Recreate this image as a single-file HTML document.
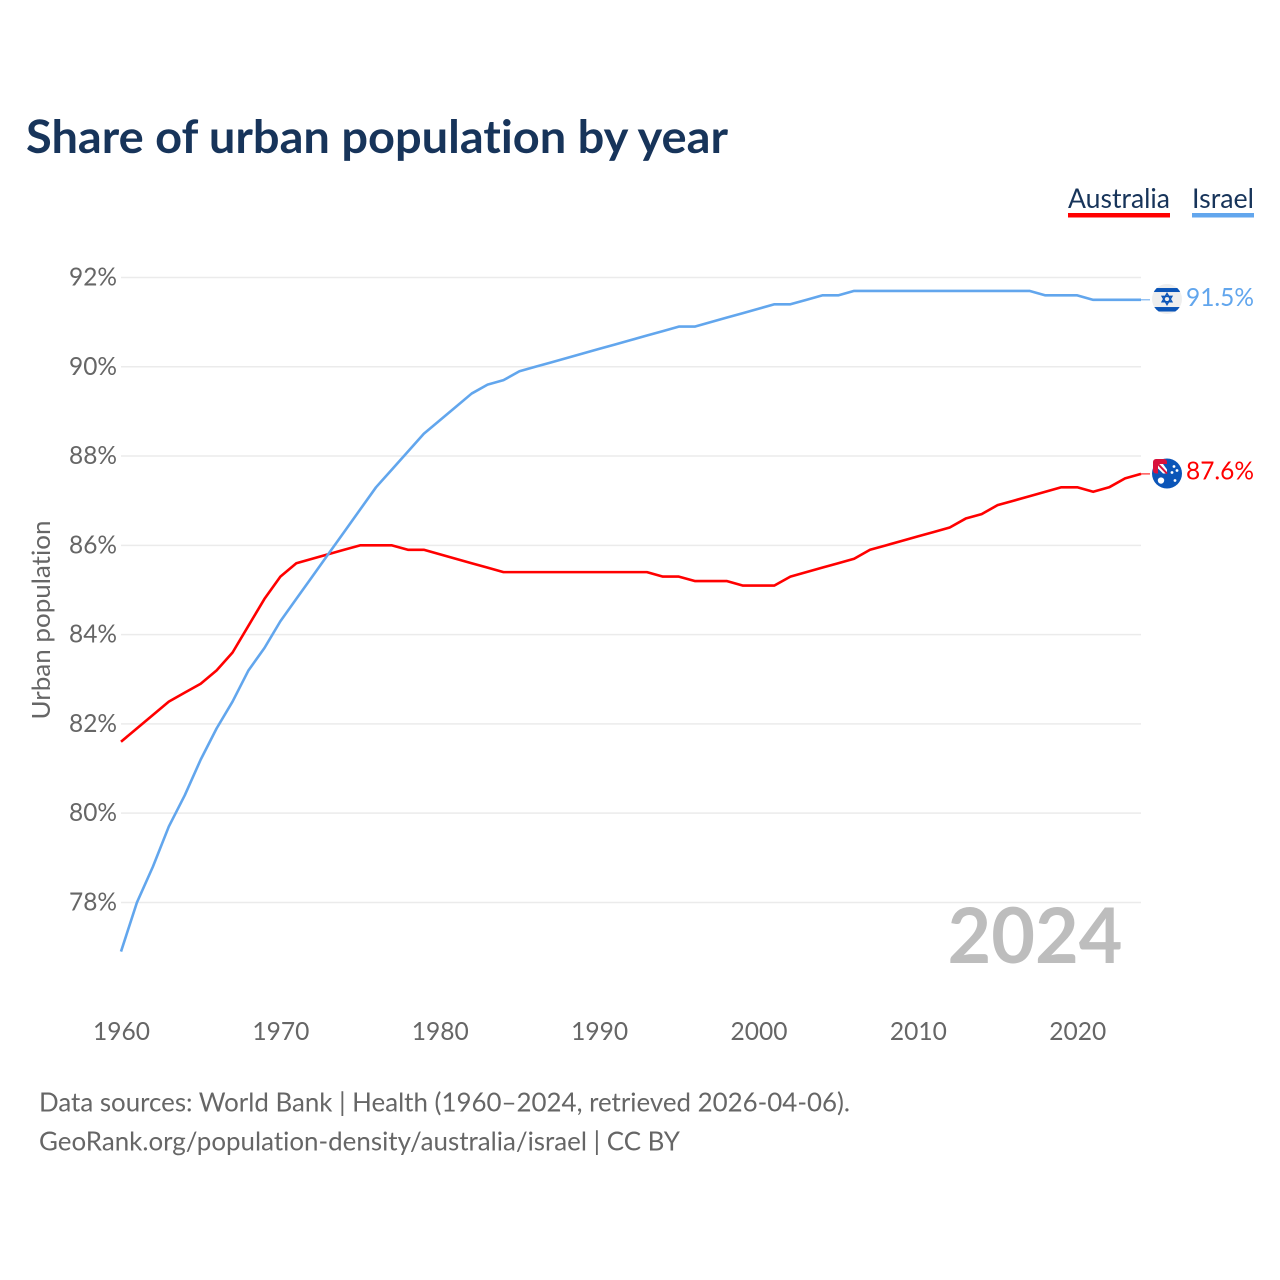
<!DOCTYPE html>
<html lang="en">
<head>
<meta charset="utf-8">
<title>Share of urban population by year</title>
<style>
html,body{margin:0;padding:0;background:#fff;width:1280px;height:1280px;overflow:hidden}
svg{display:block}
text{font-family:"Lato","Carlito","Liberation Sans",sans-serif;font-variant-ligatures:none}
</style>
</head>
<body>
<svg id="chart" xmlns="http://www.w3.org/2000/svg" width="1280" height="1280" viewBox="0 0 1280 1280">
  <defs>
    <clipPath id="il-clip"><circle cx="0" cy="0" r="15"/></clipPath>
    <clipPath id="au-clip"><circle cx="0" cy="0" r="15"/></clipPath>
  </defs>
  <text x="26" y="153" font-size="46" font-weight="700" fill="#17345a" textLength="702" lengthAdjust="spacingAndGlyphs">Share of urban population by year</text>
  <g>
    <g>
      <text x="1068" y="208" font-size="27" fill="#17345a" textLength="102" lengthAdjust="spacingAndGlyphs">Australia</text>
      <rect x="1068" y="213" width="102" height="4.5" fill="#ff0000"/>
    </g>
    <g>
      <text x="1192" y="208" font-size="27" fill="#17345a" textLength="62" lengthAdjust="spacingAndGlyphs">Israel</text>
      <rect x="1192" y="213" width="62" height="4.5" fill="#62a6ed"/>
    </g>
  </g>
  <text transform="translate(50,620) rotate(-90)" text-anchor="middle" font-size="25" fill="#666666" textLength="199" lengthAdjust="spacingAndGlyphs">Urban population</text>
  <g id="grid"></g>
  <g id="y-labels"></g>
  <g id="x-labels"></g>
  <text id="year-watermark" x="1122.5" y="963" text-anchor="end" font-size="77" font-weight="700" fill="#bdbdbd" textLength="175" lengthAdjust="spacingAndGlyphs"></text>
  <g id="series"></g>
  <g id="flag-israel">
    <g clip-path="url(#il-clip)">
      <rect x="-15" y="-15" width="30" height="30" fill="#eeeeee"/>
      <rect x="-15" y="-11" width="30" height="4" fill="#0b55b8"/>
      <rect x="-15" y="8" width="30" height="4.5" fill="#0b55b8"/>
      <path d="M0-5.5 4.8 2.7H-4.8ZM0 5.5-4.8-2.7H4.8Z" fill="none" stroke="#0b55b8" stroke-width="1.5"/>
    </g>
  </g>
  <g id="flag-australia">
    <g clip-path="url(#au-clip)">
      <rect x="-15" y="-15" width="30" height="30" fill="#0b55b8"/>
    </g>
    <rect x="-14" y="-14.5" width="14" height="14.5" rx="3" fill="#d8123c"/>
    <rect x="-9" y="-9.5" width="9" height="9.5" fill="#ffffff"/>
    <path d="M-9-5-4 0H-9Z" fill="#0b55b8"/>
    <path d="M-9-9.5 0 0" stroke="#d8123c" stroke-width="2"/>
    <path d="M-4-9.5H0V-4Z" fill="#0b55b8"/>
    <circle cx="-6" cy="7" r="3.2" fill="#ffffff"/>
    <circle cx="7" cy="-7" r="1.4" fill="#ffffff"/>
    <circle cx="10" cy="-3" r="1.4" fill="#ffffff"/>
    <circle cx="5" cy="-1" r="1.4" fill="#ffffff"/>
    <circle cx="8" cy="7" r="1.4" fill="#ffffff"/>
  </g>
  <text id="value-israel" x="1186" font-size="25.5" fill="#62a6ed" textLength="68" lengthAdjust="spacingAndGlyphs"></text>
  <text id="value-australia" x="1186" font-size="25.5" fill="#ff0000" textLength="68" lengthAdjust="spacingAndGlyphs"></text>
  <g>
    <text x="39" y="1111.5" font-size="26" fill="#666666" textLength="811" lengthAdjust="spacingAndGlyphs">Data sources: World Bank | Health (1960–2024, retrieved 2026-04-06).</text>
    <text x="39" y="1150.5" font-size="26" fill="#666666" textLength="641" lengthAdjust="spacingAndGlyphs">GeoRank.org/population-density/australia/israel | CC BY</text>
  </g>
</svg>
<script>
const years = [1960,1961,1962,1963,1964,1965,1966,1967,1968,1969,1970,1971,1972,1973,1974,1975,1976,1977,1978,1979,1980,1981,1982,1983,1984,1985,1986,1987,1988,1989,1990,1991,1992,1993,1994,1995,1996,1997,1998,1999,2000,2001,2002,2003,2004,2005,2006,2007,2008,2009,2010,2011,2012,2013,2014,2015,2016,2017,2018,2019,2020,2021,2022,2023,2024];
const australia = [81.6,81.9,82.2,82.5,82.7,82.9,83.2,83.6,84.2,84.8,85.3,85.6,85.7,85.8,85.9,86.0,86.0,86.0,85.9,85.9,85.8,85.7,85.6,85.5,85.4,85.4,85.4,85.4,85.4,85.4,85.4,85.4,85.4,85.4,85.3,85.3,85.2,85.2,85.2,85.1,85.1,85.1,85.3,85.4,85.5,85.6,85.7,85.9,86.0,86.1,86.2,86.3,86.4,86.6,86.7,86.9,87.0,87.1,87.2,87.3,87.3,87.2,87.3,87.5,87.6];
const israel = [76.9,78.0,78.8,79.7,80.4,81.2,81.9,82.5,83.2,83.7,84.3,84.8,85.3,85.8,86.3,86.8,87.3,87.7,88.1,88.5,88.8,89.1,89.4,89.6,89.7,89.9,90.0,90.1,90.2,90.3,90.4,90.5,90.6,90.7,90.8,90.9,90.9,91.0,91.1,91.2,91.3,91.4,91.4,91.5,91.6,91.6,91.7,91.7,91.7,91.7,91.7,91.7,91.7,91.7,91.7,91.7,91.7,91.7,91.6,91.6,91.6,91.5,91.5,91.5,91.5];
const yTicks = [78,80,82,84,86,88,90,92];
const xTicks = [1960,1970,1980,1990,2000,2010,2020];

const NS = 'http://www.w3.org/2000/svg';
function xScale(year){ return 121 + (year - 1960) * (1141 - 121) / 64; }
function yScale(value){ return 277.5 + (92 - value) * 44.64; }
function make(tag, parent){
  const el = document.createElementNS(NS, tag);
  parent.appendChild(el);
  return el;
}

const grid = document.getElementById('grid');
const yLabels = document.getElementById('y-labels');
yTicks.forEach(function(t){
  const line = make('line', grid);
  
  
  line.setAttribute('x1', xScale(1960));
  line.setAttribute('x2', xScale(2024));
  line.setAttribute('y1', yScale(t));
  line.setAttribute('y2', yScale(t));
  line.setAttribute('stroke', '#ebebeb');
  line.setAttribute('stroke-width', '1.5');
  const label = make('text', yLabels);
  
  
  label.setAttribute('x', 117);
  label.setAttribute('y', yScale(t) + 8);
  label.setAttribute('text-anchor', 'end');
  label.setAttribute('font-size', '25');
  label.setAttribute('fill', '#666666');
  label.setAttribute('textLength', '48');
  label.setAttribute('lengthAdjust', 'spacingAndGlyphs');
  label.textContent = t + '%';
});

const xLabels = document.getElementById('x-labels');
xTicks.forEach(function(t){
  const label = make('text', xLabels);
  
  
  label.setAttribute('x', xScale(t) + 0.5);
  label.setAttribute('y', 1040);
  label.setAttribute('text-anchor', 'middle');
  label.setAttribute('font-size', '25');
  label.setAttribute('fill', '#666666');
  label.setAttribute('textLength', '57');
  label.setAttribute('lengthAdjust', 'spacingAndGlyphs');
  label.textContent = t;
});

const seriesGroup = document.getElementById('series');
function drawSeries(values, color){
  const last = values[values.length - 1];
  const leader = make('line', seriesGroup);
  
  
  leader.setAttribute('x1', xScale(2024));
  leader.setAttribute('x2', 1150);
  leader.setAttribute('y1', yScale(last));
  leader.setAttribute('y2', yScale(last));
  leader.setAttribute('stroke', color);
  leader.setAttribute('stroke-width', '1');
  const path = make('polyline', seriesGroup);
  
  
  path.setAttribute('fill', 'none');
  path.setAttribute('stroke', color);
  path.setAttribute('stroke-width', '2.6');
  path.setAttribute('stroke-linejoin', 'round');
  path.setAttribute('points', values.map(function(v, i){
    return xScale(years[i]).toFixed(2) + ',' + yScale(v).toFixed(2);
  }).join(' '));
}
drawSeries(australia, '#ff0000');
drawSeries(israel, '#62a6ed');

const lastIsrael = israel[israel.length - 1];
const lastAustralia = australia[australia.length - 1];
document.getElementById('flag-israel').setAttribute('transform', 'translate(1167,' + (yScale(lastIsrael) - 0.8) + ')');
document.getElementById('flag-australia').setAttribute('transform', 'translate(1167,' + (yScale(lastAustralia) - 0.4) + ')');
const valueIsrael = document.getElementById('value-israel');
valueIsrael.setAttribute('y', yScale(lastIsrael) + 6);
valueIsrael.textContent = lastIsrael.toFixed(1) + '%';
const valueAustralia = document.getElementById('value-australia');
valueAustralia.setAttribute('y', yScale(lastAustralia) + 5.7);
valueAustralia.textContent = lastAustralia.toFixed(1) + '%';
document.getElementById('year-watermark').textContent = years[years.length - 1];
</script>
</body>
</html>
